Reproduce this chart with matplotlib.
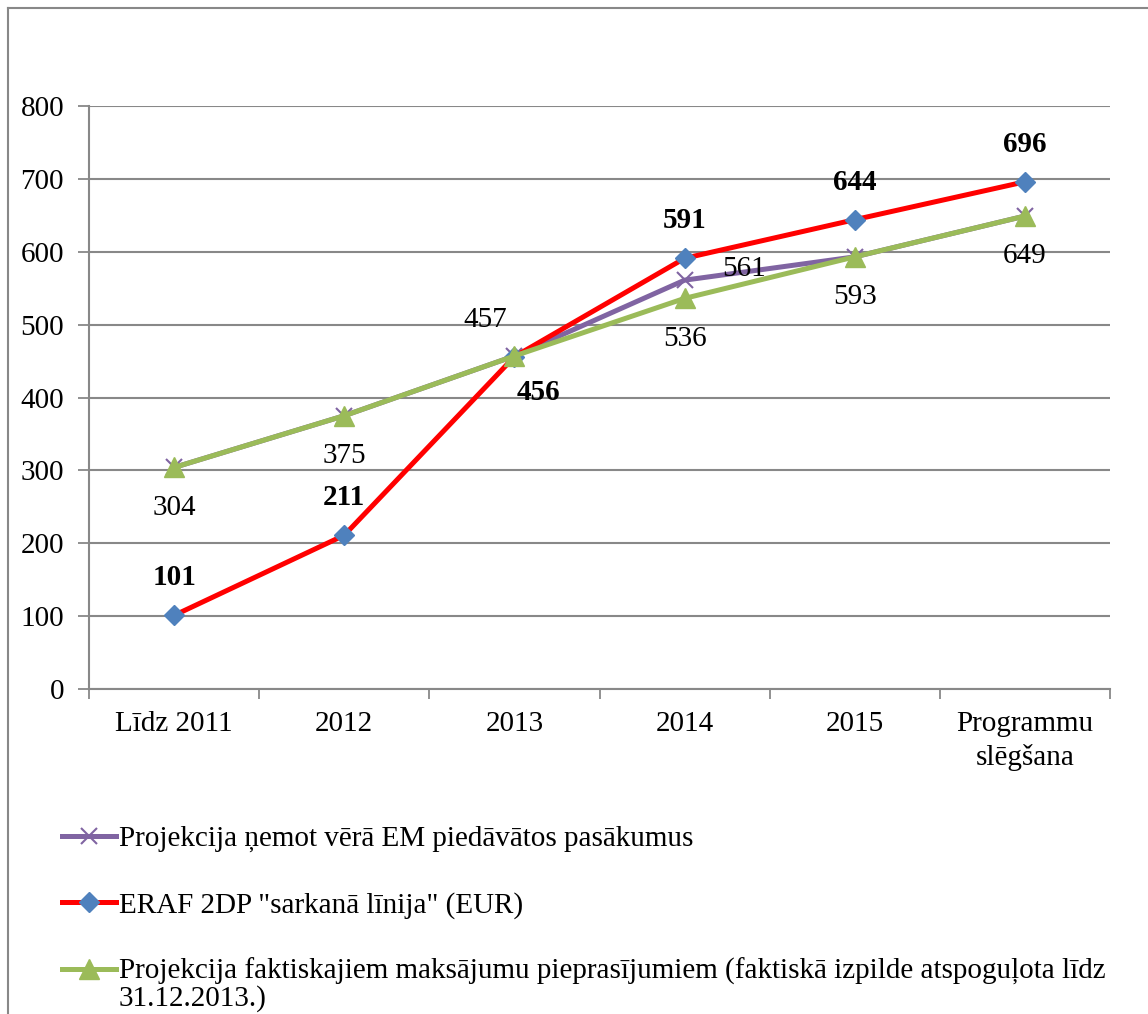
import matplotlib
matplotlib.use('Agg')
import matplotlib.pyplot as plt
from matplotlib.lines import Line2D

plt.rcParams['font.family'] = ['Liberation Serif', 'DejaVu Serif']

# dati
kategorijas = ['Līdz 2011', '2012', '2013', '2014', '2015', 'Programmu\nslēgšana']
em_projekcija = [304, 375, 457, 561, 593, 649]
sarkana_linija = [101, 211, 456, 591, 644, 696]
faktiska_proj = [304, 375, 457, 536, 593, 649]

nosaukumi = ['Projekcija ņemot vērā EM piedāvātos pasākumus',
             'ERAF 2DP "sarkanā līnija" (EUR)',
             'Projekcija faktiskajiem maksājumu pieprasījumiem (faktiskā izpilde atspoguļota līdz']
nosaukums3_turp = '31.12.2013.)'

W, H = 1148, 1014
fs = 21
fig = plt.figure(figsize=(W / 100, H / 100), dpi=100)
ax = fig.add_axes([89 / W, 1 - 689 / H, (1110 - 89) / W, (689 - 106) / H])

x = list(range(len(kategorijas)))
ax.plot(x, em_projekcija, color='#8064A2', lw=3.6, marker='x', ms=12, mew=1.5,
        mec='#8064A2', label=nosaukumi[0])
ax.plot(x, sarkana_linija, color='#FF0000', lw=3.6, marker='D', ms=10.5,
        mfc='#4F81BD', mec='#4F81BD', label=nosaukumi[1])
ax.plot(x, faktiska_proj, color='#9BBB59', lw=3.6, marker='^', ms=15,
        mfc='#9BBB59', mec='#9BBB59', label=nosaukumi[2])

ax.set_xlim(-0.5, len(kategorijas) - 0.5)
ax.set_ylim(0, 800)
ax.set_yticks(range(0, 801, 100))
ax.set_xticks(x)
ax.set_xticklabels(kategorijas, fontsize=fs, linespacing=1.3)
ax.set_xticks([i - 0.5 for i in range(len(kategorijas) + 1)], minor=True)
ax.tick_params(axis='x', which='major', length=0, pad=16)
ax.tick_params(axis='x', which='minor', length=7, color='#888888', width=1.3, direction='out')
ax.tick_params(axis='y', length=8, color='#888888', width=1.3, labelsize=fs, pad=10)
ax.grid(axis='y', color='#888888', lw=1.5)
ax.set_axisbelow(True)
for s in ['top', 'right']:
    ax.spines[s].set_visible(False)
for s in ['left', 'bottom']:
    ax.spines[s].set_color('#888888')
    ax.spines[s].set_linewidth(1.5)

# datu etiķetes
for i, v in enumerate(faktiska_proj):
    if i == 2:
        ax.annotate(str(v), (i, v), xytext=(-21, 26), textcoords='offset points',
                    ha='center', va='center', fontsize=fs)
    else:
        ax.annotate(str(v), (i, v), xytext=(0, -29), textcoords='offset points',
                    ha='center', va='center', fontsize=fs)
ax.annotate(str(em_projekcija[3]), (3, em_projekcija[3]), xytext=(43, 8),
            textcoords='offset points', ha='center', va='center', fontsize=fs)
for i, v in enumerate(sarkana_linija):
    if i == 2:
        off = (17, -26)
    else:
        off = (0, 27)
    ax.annotate(str(v), (i, v), xytext=off, textcoords='offset points',
                ha='center', va='center', fontsize=fs, fontweight='bold')

# leģenda
fig.legend(loc='upper left', bbox_to_anchor=(50 / W, 1 - 814 / H), frameon=False,
           fontsize=fs, handlelength=1.85, handletextpad=0.1, labelspacing=1.35,
           borderaxespad=0)
fig.text(119 / W, 1 - 999 / H, nosaukums3_turp, fontsize=fs, ha='left', va='center')

# rāmis
fig.add_artist(Line2D([8 / W, 8 / W], [0, 1 - 8 / H], color='#888888', lw=1.5))
fig.add_artist(Line2D([8 / W, 1], [1 - 8 / H, 1 - 8 / H], color='#888888', lw=1.5))

fig.savefig('out.png', dpi=100, facecolor='white')
